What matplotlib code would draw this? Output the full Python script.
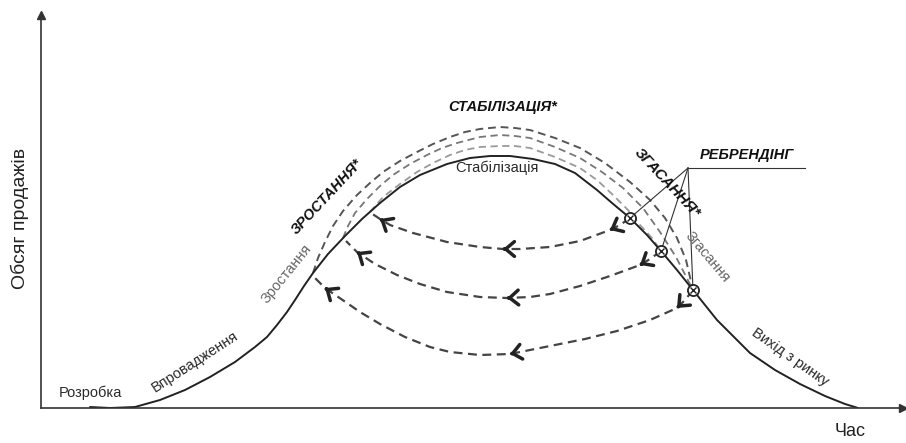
import numpy as np
import matplotlib
matplotlib.use("Agg")
import matplotlib.pyplot as plt

plt.rcParams['font.family'] = ['Liberation Sans', 'DejaVu Sans']

# main life cycle curve (time, sales)
life_t = [49, 69, 94, 119, 144, 169, 194, 214, 226, 236, 246, 254, 263, 272, 287, 304, 321, 339,
          359, 379, 406, 429, 449, 469, 492, 514, 534, 556, 571, 589, 606, 620, 636, 652,
          676, 694, 709, 734, 759, 784, 804, 817]
life_s = [1, 0, 1, 8, 18, 31, 46, 61, 71, 83, 96, 108, 122, 135, 154, 172, 189, 205,
          221, 233, 244, 250, 252, 252, 249, 244, 235, 218, 205, 190, 173, 157, 138, 118,
          88, 70, 55, 38, 24, 12, 4, 0]

# rebranded curves (dashed), outer -> inner
outer_t = [272, 277, 284, 292, 302, 316, 329, 342, 359, 376, 392, 409, 424, 439, 459, 474,
           489, 514, 539, 564, 589, 609, 624, 636, 645, 652]
outer_s = [135, 150, 166, 182, 197, 213, 225, 236, 247, 256, 264, 271, 276, 279, 281, 280,
           278, 270, 260, 245, 226, 208, 190, 170, 148, 118]
middle_t = [302, 307, 314, 326, 339, 352, 369, 386, 401, 416, 439, 459, 474, 489, 514, 539,
            561, 582, 602, 619, 635, 652]
middle_s = [170, 182, 195, 209, 222, 233, 244, 253, 260, 265, 271, 273, 272, 270, 261, 250,
            236, 220, 200, 176, 151, 118]
inner_t = [329, 342, 359, 376, 392, 409, 424, 439, 459, 474, 489, 514, 539, 556, 572, 587,
           599, 611, 620]
inner_s = [196, 211, 224, 236, 245, 253, 258, 261, 262, 262, 260, 251, 240, 228, 213, 198,
           183, 170, 157]

# return arcs (from rebranding points back to growth)
arc1_t = [589, 579, 569, 539, 509, 479, 462, 439, 406, 372, 349, 339, 330]
arc1_s = [190, 183, 178, 167, 161, 159, 159, 161, 166, 175, 183, 189, 195]
arc2_t = [620, 609, 599, 569, 539, 509, 489, 466, 439, 406, 379, 356, 334, 316, 305]
arc2_s = [157, 149, 143, 132, 122, 114, 111, 110, 111, 116, 124, 133, 144, 156, 167]
arc3_t = [652, 644, 636, 609, 576, 544, 509, 469, 439, 409, 389, 364, 339, 319, 306, 284, 274]
arc3_s = [118, 108, 100, 88, 77, 69, 62, 54, 53, 56, 61, 71, 84, 96, 105, 120, 130]
arc_heads = [[2, 6, 11], [2, 7, 13], [2, 7, 15]]

# rebranding points and label anchor
rebrand_t = [589, 620, 652]
rebrand_s = [190, 157, 118]
label_t, label_s, label_end = 647, 240, 764

fig = plt.figure(figsize=(9.06, 4.43), dpi=100)
ax = fig.add_axes([41 / 906, 35 / 443, 865 / 906, 393 / 443])
ax.set_xlim(0, 865)
ax.set_ylim(0, 393)
ax.set_xticks([])
ax.set_yticks([])
for sp in ['top', 'right']:
    ax.spines[sp].set_visible(False)
for sp in ['left', 'bottom']:
    ax.spines[sp].set_color('#333333')
    ax.spines[sp].set_linewidth(1.2)
ax.plot([0], [393], marker='^', ms=6, color='#333333', clip_on=False)
ax.plot([862], [0], marker='>', ms=6, color='#333333', clip_on=False)

dash = (0, (4, 2.5))
ax.plot(outer_t, outer_s, color='#555555', lw=1.4, ls=dash)
ax.plot(middle_t, middle_s, color='#777777', lw=1.3, ls=dash)
ax.plot(inner_t, inner_s, color='#9a9a9a', lw=1.3, ls=dash)
ax.plot(life_t, life_s, color='#222222', lw=1.4, solid_capstyle='round', solid_joinstyle='round')

for at, as_, heads in zip([arc1_t, arc2_t, arc3_t], [arc1_s, arc2_s, arc3_s], arc_heads):
    ax.plot(at, as_, color='#444444', lw=1.6, ls=(0, (4, 2.5)))
    for i in heads:
        d = np.array([at[i] - at[i - 1], as_[i] - as_[i - 1]], dtype=float)
        d /= np.hypot(*d)
        ax.annotate('', xy=(at[i], as_[i]), xytext=(at[i] - 2 * d[0], as_[i] - 2 * d[1]),
                    arrowprops=dict(arrowstyle='->,head_length=0.45,head_width=0.38',
                                    color='#222222', lw=2.5, shrinkA=0, shrinkB=0,
                                    mutation_scale=14))

# leader lines to rebranding points
for rt, rs in zip(rebrand_t, rebrand_s):
    ax.plot([label_t, rt], [label_s, rs], color='#333333', lw=0.8)
ax.plot([label_t, label_end], [label_s, label_s], color='#333333', lw=0.8)
ax.plot(rebrand_t, rebrand_s, 'o', ms=8, mfc='white', mec='#222222', mew=1.3)
ax.plot(rebrand_t, rebrand_s, 'x', ms=4, color='#222222', mew=1.0)

plain = dict(ha='center', va='center', color='#2a2a2a', fontsize=10.5)
light = dict(ha='center', va='center', color='#666666', fontsize=10.5)
bold = dict(ha='center', va='center', color='#111111', fontsize=10.5,
            fontweight='bold', fontstyle='italic')

ax.text(49, 15, 'Розробка', **plain)
ax.text(154, 46, 'Впровадження', rotation=33, **plain)
ax.text(246, 134, 'Зростання', rotation=51, **light)
ax.text(286, 211, 'ЗРОСТАННЯ*', rotation=47, **bold)
ax.text(462, 301, 'СТАБІЛІЗАЦІЯ*', **bold)
ax.text(456, 240, 'Стабілізація', **plain)
ax.text(626, 225, 'ЗГАСАННЯ*', rotation=-47, fontsize=11,
        **{k: v for k, v in bold.items() if k != 'fontsize'})
ax.text(666, 151, 'Згасання', rotation=-50, **light)
ax.text(706, 253, 'РЕБРЕНДІНГ', **bold)
ax.text(749, 51, 'Вихід з ринку', rotation=-35, **plain)

fig.text(20 / 906, 1 - 218 / 443, 'Обсяг продажів', rotation=90, ha='center', va='center',
         fontsize=14, color='#222222')
fig.text(850 / 906, 1 - 432 / 443, 'Час', ha='center', va='center', fontsize=13,
         color='#222222')

fig.savefig('out.png', dpi=100)
